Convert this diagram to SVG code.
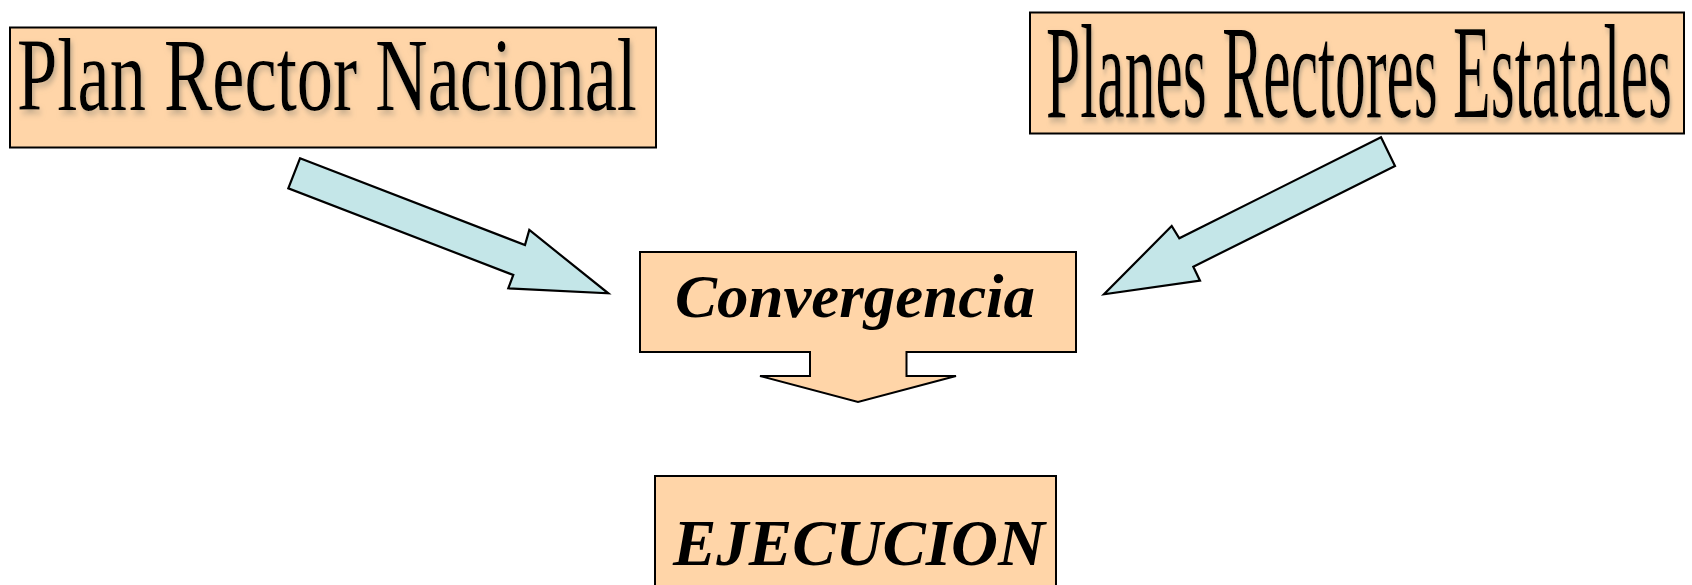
<svg xmlns="http://www.w3.org/2000/svg" width="1692" height="585" viewBox="0 0 1692 585">
  <defs>
    <filter id="shadow" x="-1.5%" y="-20%" width="103%" height="140%">
      <feDropShadow dx="3" dy="4" stdDeviation="3" flood-color="#a89880" flood-opacity="0.7"/>
    </filter>
  </defs>
  <style>
    .box { fill: #FFD5A8; stroke: #000; stroke-width: 2; }
    .arrow { fill: #C4E6E8; stroke: #000; stroke-width: 2.2; stroke-linejoin: miter; }
    .title { font-family: "Liberation Serif", "Times New Roman", serif; fill: #000; }
    .label { font-family: "Liberation Serif", "Times New Roman", serif; font-weight: bold; font-style: italic; fill: #000; }
  </style>
  <rect width="1692" height="585" fill="#fff"/>

  <g id="plan-rector-nacional">
    <rect class="box" x="10" y="27.5" width="646" height="120"/>
    <text class="title" transform="translate(17,110) scale(0.7,1)" x="0" y="0" font-size="104" textLength="885.7" lengthAdjust="spacingAndGlyphs" filter="url(#shadow)">Plan Rector Nacional</text>
  </g>

  <g id="planes-rectores-estatales">
    <rect class="box" x="1030" y="12.5" width="654" height="121"/>
    <text class="title" transform="translate(1046,116.5) scale(0.46,1)" x="0" y="0" font-size="134" textLength="1360.9" lengthAdjust="spacingAndGlyphs" filter="url(#shadow)">Planes Rectores Estatales</text>
  </g>

  <g id="convergencia">
    <path class="box" d="M640,252 H1076 V352 H906.5 V376 H956 L858,402 L760,376 H810 V352 H640 Z"/>
    <text class="label" x="675" y="317" font-size="61" textLength="360" lengthAdjust="spacingAndGlyphs">Convergencia</text>
  </g>

  <g id="ejecucion">
    <rect class="box" x="655" y="476" width="401" height="130"/>
    <text class="label" x="673" y="565" font-size="65" textLength="372" lengthAdjust="spacingAndGlyphs">EJECUCION</text>
  </g>

  <g id="connectors">
    <polygon class="arrow" points="300,158.3 525,245 529.3,230 608.3,293.3 508.3,288.3 513.3,275 288.3,188.3"/>
    <polygon class="arrow" points="1381,137.3 1179.3,238.3 1171.7,226 1104,294.3 1200,280.7 1193.3,266.7 1395,166"/>
  </g>
</svg>
